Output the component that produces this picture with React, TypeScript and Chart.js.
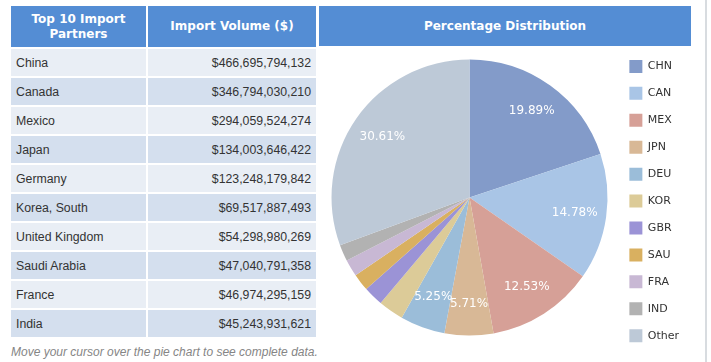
import React, { useEffect, useRef } from 'react';
import { Chart, registerables } from 'chart.js';

Chart.register(...registerables);

// ---- data ----
const partners = ['China', 'Canada', 'Mexico', 'Japan', 'Germany', 'Korea, South', 'United Kingdom', 'Saudi Arabia', 'France', 'India'];
const volumes = [466695794132, 346794030210, 294059524274, 134003646422, 123248179842, 69517887493, 54298980269, 47040791358, 46974295159, 45243931621];
const codes = ['CHN', 'CAN', 'MEX', 'JPN', 'DEU', 'KOR', 'GBR', 'SAU', 'FRA', 'IND', 'Other'];
const otherVolume = 718150000000;
const sliceColors = ['#839BC9', '#A9C5E6', '#D6A097', '#D8B896', '#9BBDD9', '#DCCB98', '#9B93D6', '#D9B060', '#C8B8D4', '#B2B2B2', '#BDC9D7'];
const tableHeaders = ['Top 10 Import Partners', 'Import Volume ($)'];
const chartTitle = 'Percentage Distribution';
const footnote = 'Move your cursor over the pie chart to see complete data.';
const labelThreshold = 0.05;

const HEADER_BLUE = '#548DD4';
const ROW_A = '#E9EEF5';
const ROW_B = '#D4DFEE';

const fmtMoney = (v: number) => '$' + v.toLocaleString('en-US');

const pieLabels = {
  id: 'pieLabels',
  afterDatasetsDraw(chart: any) {
    const ctx = chart.ctx;
    const meta = chart.getDatasetMeta(0);
    const data = chart.data.datasets[0].data as number[];
    const total = data.reduce((a, b) => a + b, 0);
    ctx.save();
    ctx.fillStyle = '#ffffff';
    ctx.font = '12px "DejaVu Sans", Verdana, sans-serif';
    ctx.textAlign = 'center';
    ctx.textBaseline = 'middle';
    meta.data.forEach((arc: any, i: number) => {
      const frac = data[i] / total;
      if (frac < labelThreshold) return;
      const p = arc.getProps(['x', 'y', 'startAngle', 'endAngle', 'outerRadius'], true);
      const mid = (p.startAngle + p.endAngle) / 2;
      const r = p.outerRadius * 0.77;
      ctx.fillText((frac * 100).toFixed(2) + '%', p.x + Math.cos(mid) * r, p.y + Math.sin(mid) * r);
    });
    ctx.restore();
  },
};

function PieChart() {
  const ref = useRef<HTMLCanvasElement | null>(null);
  useEffect(() => {
    if (!ref.current) return;
    const chart = new Chart(ref.current, {
      type: 'pie',
      data: {
        labels: codes,
        datasets: [
          {
            data: [...volumes, otherVolume],
            backgroundColor: sliceColors,
            borderWidth: 0,
            hoverOffset: 0,
            offset: 0,
          },
        ],
      },
      options: {
        responsive: false,
        animation: false,
        devicePixelRatio: 1,
        layout: { padding: { left: 4.6, right: 15.9, top: 0, bottom: 0 } },
        plugins: {
          title: { display: true, text: '', font: { size: 1, lineHeight: 1 }, padding: { top: 12.5, bottom: 0 } },
          subtitle: { display: true, position: 'bottom', text: '', font: { size: 1, lineHeight: 1 }, padding: { top: 23.5, bottom: 0 } },
          legend: {
            position: 'right',
            align: 'start',
            labels: {
              boxWidth: 13,
              boxHeight: 13,
              padding: 13.93,
              color: '#333333',
              font: { family: '"DejaVu Sans", Verdana, sans-serif', size: 11 },
            },
          },
          tooltip: { enabled: false },
        },
      },
      plugins: [pieLabels],
    } as any);
    return () => chart.destroy();
  }, []);
  return <canvas ref={ref} width={386} height={314} style={{ position: 'absolute', left: 319, top: 46, width: 386, height: 314 }} />;
}

export default function App() {
  const bodyFont = '"Liberation Sans", Arial, sans-serif';
  const headFont = '"DejaVu Sans", Verdana, sans-serif';
  const col1 = { left: 11, width: 135 };
  const col2 = { left: 148, width: 168 };
  return (
    <div style={{ position: 'absolute', left: 0, top: 0, width: 711, height: 362, background: '#fff', overflow: 'hidden' }}>
      {/* table header */}
      {[col1, col2].map((c, i) => (
        <div
          key={'h' + i}
          style={{
            position: 'absolute', left: c.left, top: 6, width: c.width, height: 41, background: HEADER_BLUE,
            color: '#fff', fontFamily: headFont, fontWeight: 'bold', fontSize: 12, lineHeight: '15px',
            display: 'flex', alignItems: 'center', justifyContent: 'center', textAlign: 'center',
            boxSizing: 'border-box', padding: '0 6px',
          }}
        >
          <span>{tableHeaders[i]}</span>
        </div>
      ))}
      {/* table rows */}
      {partners.map((p, i) => {
        const top = 49 + 29 * i;
        const bg = i % 2 === 0 ? ROW_A : ROW_B;
        const cell: React.CSSProperties = {
          position: 'absolute', top, height: 27, background: bg, color: '#333', fontFamily: bodyFont,
          fontSize: 12.3, display: 'flex', alignItems: 'center', boxSizing: 'border-box', padding: '0 5px', whiteSpace: 'nowrap',
        };
        return (
          <React.Fragment key={p}>
            <div style={{ ...cell, left: col1.left, width: col1.width }}>{p}</div>
            <div style={{ ...cell, left: col2.left, width: col2.width, justifyContent: 'flex-end' }}>{fmtMoney(volumes[i])}</div>
          </React.Fragment>
        );
      })}
      <div style={{ position: 'absolute', left: 11, top: 345, fontFamily: bodyFont, fontStyle: 'italic', fontSize: 12, lineHeight: '14px', color: '#858585', whiteSpace: 'nowrap' }}>
        {footnote}
      </div>
      {/* right panel header */}
      <div
        style={{
          position: 'absolute', left: 319, top: 6, width: 372, height: 40, background: HEADER_BLUE, color: '#fff',
          fontFamily: headFont, fontWeight: 'bold', fontSize: 12, display: 'flex', alignItems: 'center', justifyContent: 'center',
        }}
      >
        {chartTitle}
      </div>
      <div style={{ position: 'absolute', left: 705, top: 0, width: 2, height: 362, background: '#D8DCE0' }} />
      <PieChart />
    </div>
  );
}
